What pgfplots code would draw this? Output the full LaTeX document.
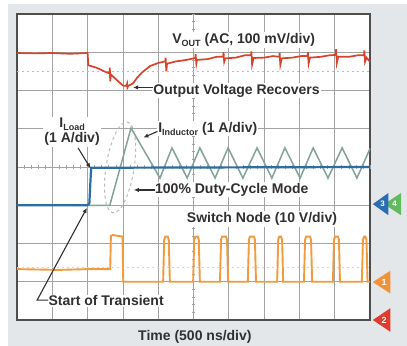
\documentclass[border=0pt]{standalone}
\usepackage{fontspec}
\setmainfont{Liberation Sans}
\usepackage{pgfplots}
\pgfplotsset{compat=1.18}
\usetikzlibrary{arrows.meta}
\definecolor{bg}{HTML}{E4E7E9}
\definecolor{gridc}{HTML}{A3A3A3}
\definecolor{framec}{HTML}{4E4E4E}
\definecolor{txt}{HTML}{303030}
\definecolor{vout}{HTML}{D9432C}
\definecolor{iload}{HTML}{2E6DA4}
\definecolor{iind}{HTML}{84A396}
\definecolor{sw}{HTML}{F29A3E}
\definecolor{mkblue}{HTML}{2A6DB5}
\definecolor{mkgreen}{HTML}{62BA5E}
\definecolor{mkorange}{HTML}{F0923A}
\definecolor{mkred}{HTML}{E03B2C}
\tikzset{
  lbl/.style={font=\fontsize{14bp}{15bp}\selectfont\bfseries, text=txt, fill=white, inner sep=1bp},
  arr/.style={-{Latex[length=5bp,width=4.5bp]}, line width=1.1bp, draw=txt},
}
\begin{document}
\begin{tikzpicture}
\useasboundingbox (0,0) rectangle (407bp,346bp);
\fill[white] (0,0) rectangle (407bp,346bp);
\fill[bg] (8bp,0) rectangle (407bp,342bp);
\begin{axis}[
  at={(17bp,26bp)}, anchor=south west,
  scale only axis, width=353bp, height=306bp,
  xmin=0, xmax=10, ymin=0, ymax=8,
  xtick={1,...,9}, ytick={1,...,7},
  xticklabels={}, yticklabels={},
  major tick length=0pt,
  grid=major,
  grid style={draw=gridc, line width=0.8bp},
  axis line style={draw=framec, line width=1.6bp},
  axis background/.style={fill=white},
  clip=false,
]
% center graticule ticks
\pgfplotsinvokeforeach{0.2,0.4,...,9.9}{\draw[gridc, line width=0.6bp] (axis cs:#1,3.94) -- (axis cs:#1,4.06);}
\pgfplotsinvokeforeach{0.2,0.4,...,7.9}{\draw[gridc, line width=0.6bp] (axis cs:4.95,#1) -- (axis cs:5.05,#1);}
% reference dotted lines
\draw[vout!45, line width=0.9bp, dash pattern=on 2bp off 3bp] (axis cs:0,6.49) -- (axis cs:10,6.49);
\draw[sw!50, line width=0.9bp, dash pattern=on 2bp off 3bp] (axis cs:0,1.38) -- (axis cs:10,1.38);
% dashed ellipse
\draw[gray!55, dashed, line width=1bp, rotate around={-9:(axis cs:2.92,3.99)}] (axis cs:2.92,3.99) ellipse [x radius=14bp, y radius=46bp];
% Inductor current
\addplot[iind, line width=1.5bp] coordinates {
(1.9,3.0) (2.63,3.0) (3.23,5.02) (4.05,3.71) (4.39,4.50) (4.82,3.71) (5.18,4.50) (5.61,3.71)
(5.98,4.50) (6.40,3.71) (6.80,4.50) (7.22,3.71) (7.59,4.50) (8.02,3.71) (8.39,4.50)
(8.81,3.71) (9.21,4.50) (9.63,3.71) (10.0,4.48)};
% Load current
\addplot[iload, line width=2.2bp] coordinates {
(0,3.0) (1.0,3.0) (2.0,3.0) (2.05,3.05) (2.10,3.98) (10,4.0)};
% Vout
\addplot[vout, line width=1.7bp] coordinates {
(0,6.98) (0.5,6.97) (1.0,6.98) (1.5,6.96) (2.0,6.98) (2.02,6.66) (2.27,6.59) (2.52,6.48)
(2.62,6.45) (2.63,6.60) (2.64,6.24) (2.66,6.42) (2.83,6.27) (3.00,6.13)
(3.10,6.12) (3.12,6.18) (3.13,6.08) (3.15,6.12) (3.28,6.18) (3.40,6.33) (3.54,6.47)
(3.77,6.64) (4.00,6.72) (4.20,6.76) (4.21,6.86) (4.23,6.50) (4.25,6.70) (4.50,6.76)
(4.80,6.80) (5.05,6.85) (5.06,6.95) (5.08,6.70) (5.10,6.80) (5.40,6.82) (5.65,6.88)
(5.84,6.88) (5.85,7.00) (5.87,6.75) (5.90,6.84) (6.20,6.86) (6.45,6.92) (6.63,6.92)
(6.64,7.02) (6.66,6.68) (6.70,6.85) (7.0,6.86) (7.25,6.90) (7.43,6.88) (7.44,6.98)
(7.46,6.67) (7.50,6.84) (7.80,6.86) (8.05,6.90) (8.23,6.90) (8.24,7.00) (8.26,6.70)
(8.30,6.86) (8.60,6.88) (8.85,6.92) (9.03,6.93) (9.04,7.08) (9.06,6.72) (9.10,6.88)
(9.40,6.88) (9.65,6.92) (9.83,6.92) (9.84,7.05) (9.86,6.75) (9.90,6.86) (10.0,6.75)};
% Switch node
\addplot[sw, line width=1.9bp] coordinates {
(0,1.33) (1.2,1.31) (2.0,1.33) (2.64,1.33) (2.66,2.20) (2.72,2.22) (2.99,2.18) (3.01,1.0)
(4.14,1.0) (4.17,2.1) (4.20,2.18) (4.27,2.18) (4.30,2.1) (4.33,1.0)
(4.99,1.0) (5.02,2.1) (5.05,2.18) (5.12,2.18) (5.15,2.1) (5.18,1.0)
(5.75,1.0) (5.78,2.1) (5.81,2.18) (5.92,2.18) (5.95,2.1) (5.98,1.0)
(6.54,1.0) (6.57,2.1) (6.60,2.18) (6.71,2.18) (6.74,2.1) (6.77,1.0)
(7.37,1.0) (7.40,2.1) (7.43,2.18) (7.48,2.18) (7.51,2.1) (7.54,1.0)
(8.13,1.0) (8.16,2.1) (8.19,2.18) (8.30,2.18) (8.33,2.1) (8.36,1.0)
(8.95,1.0) (8.98,2.1) (9.01,2.18) (9.09,2.18) (9.12,2.1) (9.15,1.0)
(9.77,1.0) (9.80,2.1) (9.83,2.18) (9.87,2.18) (9.90,2.1) (9.93,1.0) (10.0,1.0)};
% labels
\node[lbl] at (axis cs:6.42,7.32) {V\raisebox{-0.35ex}{\fontsize{9bp}{9bp}\selectfont OUT} (AC, 100 mV/div)};
\node[lbl, anchor=west] at (axis cs:3.83,6.0) {Output Voltage Recovers};
\draw[arr] (axis cs:3.84,6.08) -- (axis cs:3.29,6.08);
\node[lbl, align=center] at (axis cs:1.56,4.92) {I\raisebox{-0.35ex}{\fontsize{9bp}{9bp}\selectfont Load}\\(1 A/div)};
\draw[arr] (axis cs:1.73,4.50) -- (axis cs:2.08,3.97);
\node[lbl, anchor=west] at (axis cs:3.97,5.0) {I\raisebox{-0.4ex}{\fontsize{9bp}{9bp}\selectfont Inductor} (1 A/div)};
\draw[arr] (axis cs:3.98,4.93) -- (axis cs:3.58,4.77);
\node[lbl, anchor=west] at (axis cs:3.88,3.40) {100\% Duty-Cycle Mode};
\draw[arr] (axis cs:3.90,3.40) -- (axis cs:3.31,3.40);
\node[lbl] at (axis cs:6.94,2.64) {Switch Node (10 V/div)};
\node[lbl, anchor=west] at (axis cs:0.86,0.50) {Start of Transient};
\draw[arr] (axis cs:0.88,0.52) -- (axis cs:0.57,0.52) -- (axis cs:1.98,2.93);
\node[font=\fontsize{14bp}{15bp}\selectfont\bfseries, text=txt] at (axis cs:5.04,-0.45) {Time (500 ns/div)};
% channel markers
\fill[mkgreen] (axis cs:10.40,3.03) -- (axis cs:10.88,3.32) -- (axis cs:10.88,2.74) -- cycle;
\node[white, font=\fontsize{8bp}{8bp}\selectfont\bfseries] at (axis cs:10.70,3.03) {4};
\fill[mkblue] (axis cs:10.08,3.03) -- (axis cs:10.52,3.32) -- (axis cs:10.52,2.74) -- cycle;
\node[white, font=\fontsize{8bp}{8bp}\selectfont\bfseries] at (axis cs:10.36,3.03) {3};
\fill[mkorange] (axis cs:10.08,0.99) -- (axis cs:10.58,1.29) -- (axis cs:10.58,0.69) -- cycle;
\node[white, font=\fontsize{9bp}{9bp}\selectfont\bfseries] at (axis cs:10.40,0.99) {1};
\fill[mkred] (axis cs:10.08,0.0) -- (axis cs:10.58,0.31) -- (axis cs:10.58,-0.31) -- cycle;
\node[white, font=\fontsize{9bp}{9bp}\selectfont\bfseries] at (axis cs:10.40,0.0) {2};
\end{axis}
\end{tikzpicture}
\end{document}
